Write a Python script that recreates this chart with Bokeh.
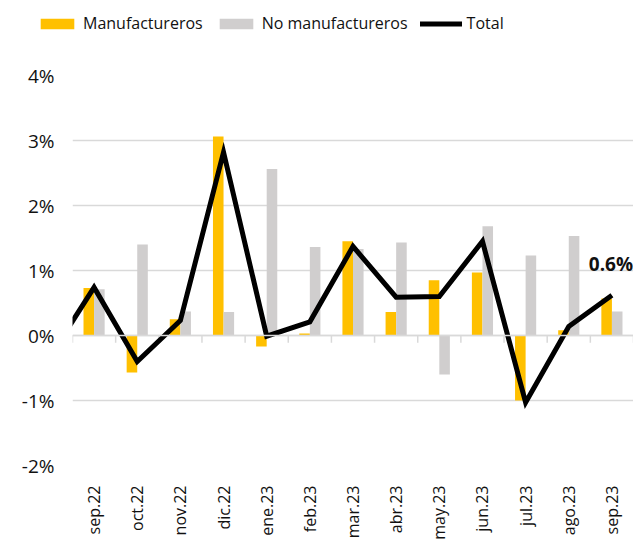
from bokeh.plotting import figure
from bokeh.models import (Range1d, FixedTicker, Legend, LegendItem, Span, Label,
                          ColumnDataSource)
from bokeh.layouts import column
from bokeh.embed import file_html
from bokeh.resources import INLINE
import math

# ---- data (monthly % change) ----
categories = ["sep.22", "oct.22", "nov.22", "dic.22", "ene.23", "feb.23", "mar.23",
              "abr.23", "may.23", "jun.23", "jul.23", "ago.23", "sep.23"]
manufactureros = [0.73, -0.57, 0.25, 3.06, -0.17, 0.03, 1.45, 0.36, 0.85, 0.97, -1.00, 0.08, 0.57]
no_manufactureros = [0.71, 1.40, 0.37, 0.36, 2.56, 1.36, 1.33, 1.43, -0.60, 1.68, 1.23, 1.53, 0.37]
total = [0.74, -0.40, 0.23, 2.82, -0.01, 0.21, 1.37, 0.59, 0.60, 1.45, -1.03, 0.14, 0.62]
# previous month (ago.22), only its segment entering the chart is visible
total_prev = -0.30
y_ticks = [-2, -1, 0, 1, 2, 3, 4]
series_names = ["Manufactureros", "No manufactureros", "Total"]

FONT = "Open Sans"
C_MAN, C_NOMAN, C_TOT = "#FFC000", "#D0CECE", "black"
n = len(categories)
xs = list(range(n))

p = figure(frame_width=561, frame_height=390, output_backend="svg", toolbar_location=None,
           x_range=Range1d(-0.5, n - 0.5), y_range=Range1d(-2, 4),
           min_border_left=72, min_border_right=0, min_border_top=30,
           min_border_bottom=72)
p.frame_align = False
p.outline_line_color = None
p.background_fill_color = "white"

bw = 0.245
src = ColumnDataSource(dict(
    xm=[x - bw / 2 for x in xs], xn=[x + bw / 2 for x in xs],
    m=manufactureros, nm=no_manufactureros))
p.vbar(x="xm", top="m", bottom=0, width=bw, source=src, fill_color=C_MAN, line_color=None)
p.vbar(x="xn", top="nm", bottom=0, width=bw, source=src, fill_color=C_NOMAN, line_color=None)

# zero axis line and category boundary ticks
p.add_layout(Span(location=0, dimension="width", line_color="#D9D9D9", line_width=1.5))
bounds = [k - 0.5 for k in range(n + 1)]
p.segment(x0=bounds, x1=bounds, y0=[0] * len(bounds), y1=[-0.11] * len(bounds),
          line_color="#D9D9D9", line_width=1.5)

p.line([-1] + xs, [total_prev] + total, line_color=C_TOT, line_width=5, line_join="miter")

p.add_layout(Label(x=n - 1, y=total[-1], text=f"{total[-1]:.1f}%", text_align="center",
                   text_baseline="middle", x_offset=-1, y_offset=31, text_font=FONT,
                   text_font_size="19px", text_font_style="bold", text_color="#111111"))

# axes
p.xgrid.visible = False
p.ygrid.grid_line_color = "#D9D9D9"
p.ygrid.grid_line_width = 1.5
p.yaxis.ticker = FixedTicker(ticks=y_ticks)
p.yaxis.major_label_overrides = {t: f"{t}%" for t in y_ticks}
p.yaxis.axis_line_color = None
p.yaxis.major_tick_line_color = None
p.yaxis.minor_tick_line_color = None
p.yaxis.major_label_standoff = 12
p.yaxis.major_label_text_font = FONT
p.yaxis.major_label_text_font_size = "19px"
p.yaxis.major_label_text_color = "#111111"

p.xaxis.ticker = FixedTicker(ticks=xs)
p.xaxis.major_label_overrides = {i: c for i, c in enumerate(categories)}
p.xaxis.major_label_orientation = math.pi / 2
p.xaxis.axis_line_color = None
p.xaxis.major_tick_line_color = None
p.xaxis.minor_tick_line_color = None
p.xaxis.major_label_standoff = 14
p.xaxis.major_label_text_font = FONT
p.xaxis.major_label_text_font_size = "16px"
p.xaxis.major_label_text_color = "#111111"

# ---- legend strip (separate figure above the chart) ----
lf = figure(width=633, height=45, output_backend="svg", toolbar_location=None,
            x_range=Range1d(0, 1), y_range=Range1d(0, 1),
            min_border_left=0, min_border_right=0, min_border_top=0, min_border_bottom=0,
            x_axis_type=None, y_axis_type=None)
lf.frame_align = False
lf.outline_line_color = None
lf.grid.visible = False
# zero-size stand-ins, only used to draw the legend swatches
lm = lf.vbar(x=[0], top=[0], bottom=[0], width=0, fill_color=C_MAN, line_color=None)
ln = lf.vbar(x=[0], top=[0], bottom=[0], width=0, fill_color=C_NOMAN, line_color=None)
lt = lf.line(x=[0], y=[0], line_color=C_TOT, line_width=5, line_cap="round")
legend = Legend(items=[LegendItem(label=series_names[0], renderers=[lm]),
                       LegendItem(label=series_names[1], renderers=[ln]),
                       LegendItem(label=series_names[2], renderers=[lt])],
                orientation="horizontal", location=(36, 9),
                glyph_width=42, glyph_height=13, label_standoff=5, spacing=12,
                padding=0, margin=0, border_line_color=None, background_fill_alpha=0,
                label_text_font=FONT, label_text_font_size="16px",
                label_text_baseline="alphabetic",
                label_text_color="#111111", label_height=26)
lf.add_layout(legend, "center")

layout = column(lf, p, spacing=0)
open("out.html", "w").write(file_html(layout, INLINE))
